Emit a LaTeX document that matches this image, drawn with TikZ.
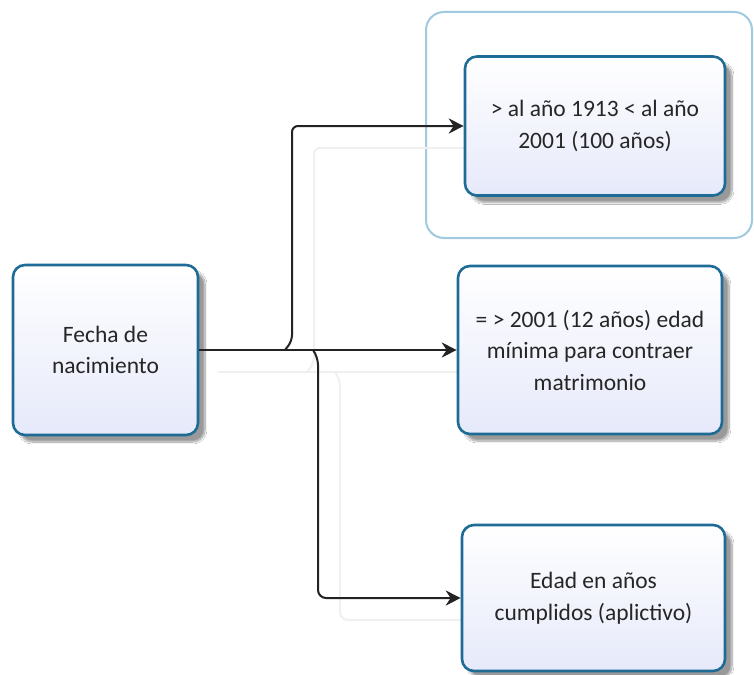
\documentclass[tikz,border=0pt]{standalone}
\usepackage{fontspec}
\setmainfont{Carlito}
\usetikzlibrary{arrows.meta,shadows.blur}
\definecolor{boxborder}{RGB}{30,108,150}
\definecolor{boxfill}{RGB}{230,233,250}
\definecolor{framecol}{RGB}{160,202,222}
\definecolor{conncol}{RGB}{35,35,35}
\begin{document}
\begin{tikzpicture}[x=1pt,y=-1pt,
  box/.style={draw=boxborder, line width=2.6pt, rounded corners=12pt,
    top color=white, bottom color=boxfill, align=center,
    font=\fontsize{23.5}{31.5}\selectfont, text=black!85,
    blur shadow={shadow xshift=7pt, shadow yshift=-7pt, shadow blur steps=10, shadow opacity=40}},
  groupframe/.style={draw=framecol, line width=2pt, rounded corners=18pt},
  conn/.style={draw=conncol, line width=2pt, -{Stealth[length=15pt,width=15pt]}},
  ghost/.style={draw=black!6, line width=2pt}]
\useasboundingbox (0,0) rectangle (754,674);
\fill[white] (0,0) rectangle (754,674);

% group frame around the first target
\node[groupframe, minimum width=326pt, minimum height=226pt] (grp) at (589,125) {};

% junction points on the main connector
\coordinate (j1) at (285,350);
\coordinate (j2) at (313,350);

% connector shadows
\begin{scope}[transform canvas={shift={(22pt,-22pt)}}]
  \path[ghost] (196,350) -- (458,350);
  \path[ghost, rounded corners=6pt] (285,350) -- (292,341) |- (465,126);
  \path[ghost, rounded corners=8pt] (313,350) -- (318,357) |- (462,598);
\end{scope}

\node[box, minimum width=185pt, minimum height=170pt] (src) at (105.5,350) {Fecha de\\nacimiento};
\node[box, minimum width=260pt, minimum height=139pt] (top) at (595,126) {> al año 1913 < al año\\2001 (100 años)};
\node[box, minimum width=264pt, minimum height=168pt] (mid) at (590,350) {= > 2001 (12 años) edad\\mínima para contraer\\matrimonio};
\node[box, minimum width=263pt, minimum height=146pt] (bot) at (593.5,598) {Edad en años\\cumplidos (aplictivo)};

% connectors
\draw[conn] (src.east) -- (mid.west);
\draw[conn, rounded corners=6pt] (j1) -- (292,341) |- (top.west);
\draw[conn, rounded corners=8pt] (j2) -- (318,357) |- (bot.west);
\end{tikzpicture}
\end{document}
